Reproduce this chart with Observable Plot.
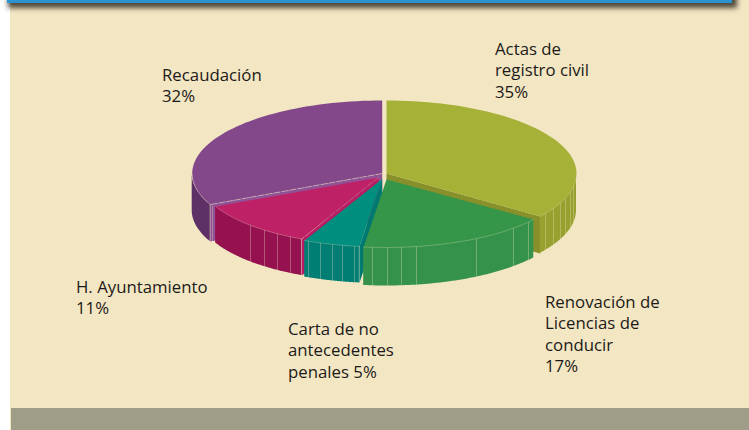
<!DOCTYPE html>
<html lang="es">
<head>
<meta charset="utf-8">
<script src="https://cdn.jsdelivr.net/npm/d3@7"></script>
<script src="https://cdn.jsdelivr.net/npm/@observablehq/plot@0.6"></script>
<style>
  html, body { margin: 0; padding: 0; background: #fff; overflow: hidden; }
  #page { position: relative; width: 749px; height: 430px; overflow: hidden; }
  #panel { position: absolute; left: 10px; top: 0; right: 0; bottom: 0; background: #f3e6c3; }
  #band { position: absolute; left: 11px; right: 0; top: 408px; bottom: 0; background: #9f9d87; }
  #head { position: absolute; left: 7px; top: -20px; width: 725px; height: 23px; background: #2a93d0;
          box-shadow: 3px 3px 5px 2px rgba(50,44,34,.85); }
  #chart { position: absolute; left: 0; top: 0; }
  #chart svg { background: transparent; display: block; }
</style>
</head>
<body>
<div id="page"><div id="panel"></div><div id="band"></div><div id="head"></div><div id="chart"></div></div>
<script>
// --- data
const categories = ["Actas de registro civil", "Renovación de Licencias de conducir", "Carta de no antecedentes penales", "H. Ayuntamiento", "Recaudación"];
const shares = [35, 17, 5, 11, 32];
const labelLines = [
  ["Actas de", "registro civil", "35%"],
  ["Renovación de", "Licencias de", "conducir", "17%"],
  ["Carta de no", "antecedentes", "penales 5%"],
  ["H. Ayuntamiento", "11%"],
  ["Recaudación", "32%"]
];
// --- styles
const topColors  = ["#a6b138", "#35964a", "#008e7e", "#bf2167", "#82488a"];
const wallColors = ["#98a02f", "#35924a", "#007e73", "#96114f", "#5d3066"];
const cutColors  = ["#87902a", null, "#007a70", "#b81c62", "#8f5296"];
const cutSides   = ["end", null, "start", "start", "start"];
// --- layout of the exploded pie (reference pixel space)
const centerX = [386, 386, 381.7, 378, 381.7];
const centerY = [173, 179, 178.5, 177, 173];
const radiusX = [190, 182, 182, 180, 190];
const radiusY = [73, 68, 68, 68, 73];
const depths = [37, 38.5, 36.5, 36.5, 37];
const labelX = [494.5, 544.5, 287.5, 75.5, 161.5];
const labelY = [49, 302, 329, 287, 75];
const lineGap = 21.5;
const drawOrder = [4, 0, 3, 2, 1];
// positions of the pale seams on the side walls
const seams = [
  [545, 553, 560, 565, 570, 573],
  [372, 387, 401, 416, 476, 513, 528],
  [308, 320, 332, 342, 354],
  [250, 264, 277, 290],
  [212]
];

const arcs = d3.pie().sort(null).startAngle(0).endAngle(2 * Math.PI)(shares);
const rim = (i, a) => ({x: centerX[i] + radiusX[i] * Math.sin(a), y: centerY[i] - radiusY[i] * Math.cos(a)});
const sweep = (a0, a1, n = 60) => d3.range(n + 1).map(k => a0 + (a1 - a0) * k / n);

const marks = [];
for (const i of drawOrder) {
  const {startAngle: a0, endAngle: a1} = arcs[i];
  const apex = {x: centerX[i], y: centerY[i]};
  const depth = depths[i];
  if (cutSides[i]) {
    const p = rim(i, cutSides[i] === "start" ? a0 : a1);
    marks.push(Plot.line(
      [apex, p, {x: p.x, y: p.y + depth}, {x: apex.x, y: apex.y + depth}],
      {x: "x", y: "y", fill: cutColors[i], stroke: "none"}));
  }
  // outer wall: only the front half of the ellipse faces the viewer
  const w0 = Math.max(a0, Math.PI / 2), w1 = Math.min(a1, 3 * Math.PI / 2);
  if (w1 > w0) {
    const wall = sweep(w0, w1).map(a => { const p = rim(i, a); return {x: p.x, y1: p.y, y2: p.y + depth}; });
    marks.push(Plot.area(wall, {x1: "x", y1: "y1", x2: "x", y2: "y2", fill: wallColors[i], stroke: "none"}));
    const seamRows = seams[i].map(x => {
      const s = (x - centerX[i]) / radiusX[i];
      const y = centerY[i] + radiusY[i] * Math.sqrt(Math.max(0, 1 - s * s));
      return {x, y1: y, y2: y + depth};
    });
    marks.push(Plot.ruleX(seamRows, {x: "x", y1: "y1", y2: "y2", stroke: "#f3e6c3", strokeOpacity: 0.32, strokeWidth: 1}));
  }
  const outline = sweep(a0, a1).map(a => rim(i, a));
  marks.push(Plot.line([apex, ...outline, apex], {x: "x", y: "y", fill: topColors[i], stroke: "none"}));
  // pale highlight along the front rim
  if (w1 > w0) {
    marks.push(Plot.line(sweep(w0, w1).map(a => rim(i, a)), {x: "x", y: "y", stroke: "#f3e6c3", strokeOpacity: 0.35, strokeWidth: 0.8}));
  }
}
// dashed pale edges of the purple and magenta tops
[[4, arcs[4].startAngle, 0.6], [3, arcs[3].startAngle, 0.35]].forEach(([i, a, op]) => {
  marks.push(Plot.line([{x: centerX[i], y: centerY[i]}, rim(i, a)],
    {x: "x", y: "y", stroke: "#f3e6c3", strokeOpacity: op, strokeWidth: 0.8, strokeDasharray: "6 2"}));
});
// labels
const labelRows = labelLines.flatMap((lines, i) => lines.map((text, k) => ({text, x: labelX[i], y: labelY[i] + k * lineGap})));
marks.push(Plot.text(labelRows, {
  x: "x", y: "y", text: "text", textAnchor: "start", fill: "#1c1a18",
  fontSize: 16.8, fontFamily: "'Open Sans', sans-serif"
}));

const chart = Plot.plot({
  width: 749, height: 430,
  margin: 0,
  x: {domain: [0, 749], range: [0, 749], axis: null},
  y: {domain: [0, 430], range: [0, 430], axis: null},
  style: {background: "transparent"},
  marks
});
document.getElementById("chart").append(chart);
</script>
</body>
</html>
